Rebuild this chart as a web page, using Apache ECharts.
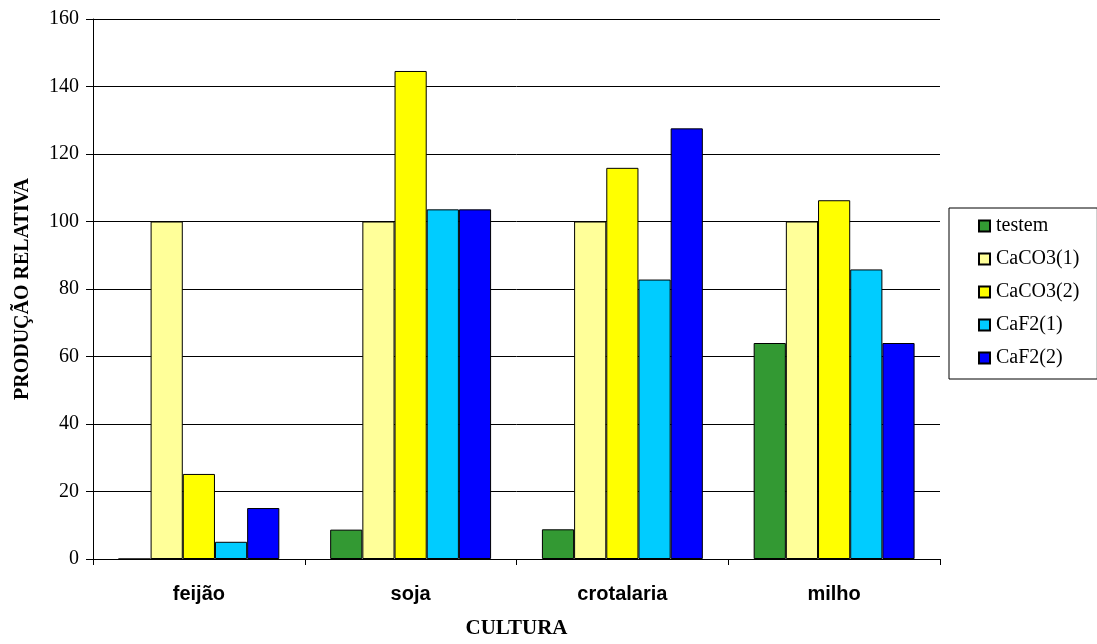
<!DOCTYPE html>
<html>
<head>
<meta charset="utf-8">
<script src="https://cdn.jsdelivr.net/npm/echarts@6/dist/echarts.min.js"></script>
<style>
  html, body { margin: 0; padding: 0; background: #ffffff; }
  #chart { width: 1097px; height: 644px; }
</style>
</head>
<body>
<div id="chart"></div>
<script>
// Crops along the x axis
const categories = ['feijão', 'soja', 'crotalaria', 'milho'];

// Treatment names (legend order)
const seriesNames = ['testem', 'CaCO3(1)', 'CaCO3(2)', 'CaF2(1)', 'CaF2(2)'];

// Relative production per treatment, one value per crop
const testem   = [0, 8.7, 8.8, 64];
const caco3_1  = [100, 100, 100, 100];
const caco3_2  = [25.2, 144.6, 115.9, 106.3];
const caf2_1   = [5.1, 103.6, 82.8, 85.8];
const caf2_2   = [15.1, 103.6, 127.6, 64];

// Y axis tick range
const yMin = 0, yMax = 160, yStep = 20;

const seriesValues = [testem, caco3_1, caco3_2, caf2_1, caf2_2];
const seriesColors = ['#339933', '#FFFF99', '#FFFF00', '#00CCFF', '#0000FF'];

const chart = echarts.init(document.getElementById('chart'), null, { renderer: 'canvas' });

const serif = '"Liberation Serif", "Times New Roman", serif';
const sans = '"Liberation Sans", Arial, sans-serif';

chart.setOption({
  animation: false,
  backgroundColor: '#ffffff',
  grid: { left: 93, right: 157, top: 19, bottom: 79, containLabel: false },
  legend: {
    orient: 'vertical',
    left: 949,
    top: 208,
    data: seriesNames,
    itemWidth: 11,
    itemHeight: 11,
    itemGap: 13,
    padding: [8, 18, 11, 29],
    borderColor: '#000000',
    borderWidth: 1,
    icon: 'rect',
    textStyle: { fontFamily: serif, fontSize: 20, lineHeight: 20, color: '#000000', padding: [0, 0, 0, 1] }
  },
  xAxis: {
    type: 'category',
    data: categories,
    name: 'CULTURA',
    nameLocation: 'middle',
    nameGap: 59,
    nameTextStyle: { fontFamily: serif, fontSize: 21, fontWeight: 'bold', color: '#000000' },
    axisLine: { lineStyle: { color: '#000000', width: 1 } },
    axisTick: { show: true, alignWithLabel: false, length: 6, lineStyle: { color: '#000000' } },
    axisLabel: { fontFamily: sans, fontSize: 20, fontWeight: 'bold', color: '#000000', margin: 25 },
    splitLine: { show: false }
  },
  yAxis: {
    type: 'value',
    min: yMin,
    max: yMax,
    interval: yStep,
    name: 'PRODUÇÃO RELATIVA',
    nameLocation: 'middle',
    nameGap: 60,
    nameRotate: 90,
    nameTextStyle: { fontFamily: serif, fontSize: 20, fontWeight: 'bold', color: '#000000' },
    axisLine: { show: true, lineStyle: { color: '#000000', width: 1 } },
    axisTick: { show: true, length: 7, lineStyle: { color: '#000000' } },
    axisLabel: { fontFamily: serif, fontSize: 20, color: '#000000', margin: 14 },
    splitLine: { show: true, lineStyle: { color: '#000000', width: 1 } }
  },
  series: seriesNames.map((name, i) => ({
    name: name,
    type: 'bar',
    data: seriesValues[i],
    barGap: '0%',
    barCategoryGap: '24%',
    itemStyle: { color: seriesColors[i], borderColor: '#000000', borderWidth: 1 }
  }))
});
</script>
</body>
</html>
